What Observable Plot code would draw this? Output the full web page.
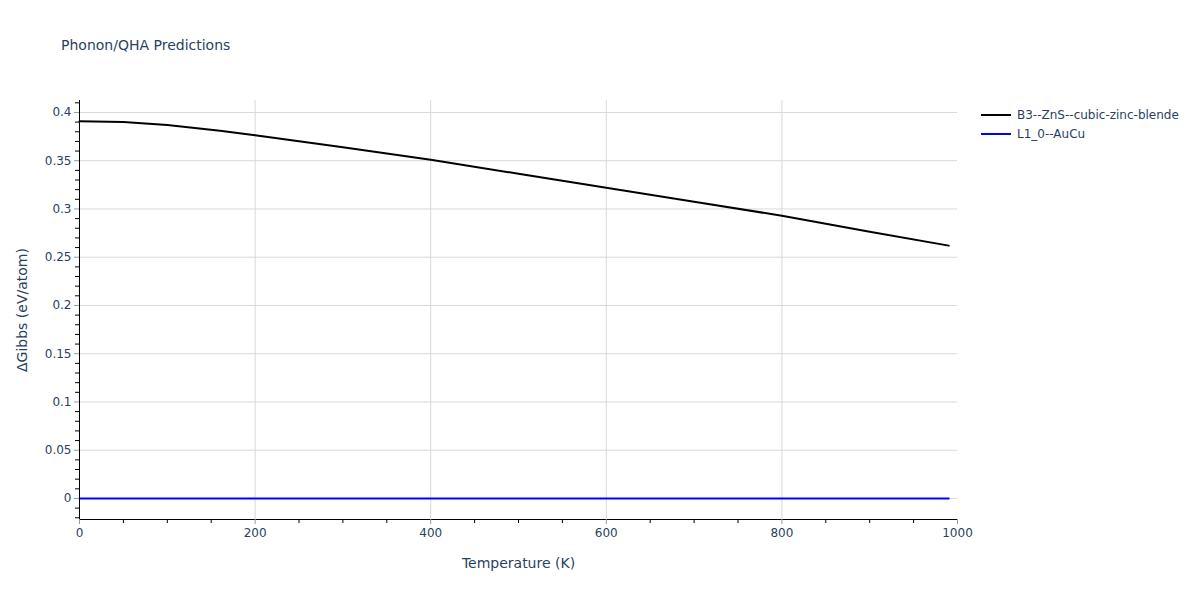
<!DOCTYPE html>
<html>
<head>
<meta charset="utf-8">
<script src="https://cdn.jsdelivr.net/npm/d3@7"></script>
<script src="https://cdn.jsdelivr.net/npm/@observablehq/plot@0.6"></script>
<style>
  html, body { margin: 0; padding: 0; background: #fff; }
  body { width: 1200px; height: 600px; position: relative; overflow: hidden; font-family: "DejaVu Sans", sans-serif; }
  #title { position: absolute; left: 61px; top: 37px; font-size: 14px; color: #2a3f5f; }
  #chart { position: absolute; left: 0; top: 0; }
  #legend { position: absolute; left: 981px; top: 105px; font-size: 12px; color: #2a3f5f; }
  .item { display: flex; align-items: center; height: 19px; }
  .swatch { width: 30px; height: 2px; margin-right: 6px; }
</style>
</head>
<body>
<div id="chart"></div>
<div id="title">Phonon/QHA Predictions</div>
<div id="legend"></div>
<script>
const seriesNames = ["B3--ZnS--cubic-zinc-blende", "L1_0--AuCu"];
const seriesColors = ["#000000", "#0000ff"];
const temps = [0, 50, 100, 160, 200, 300, 400, 500, 600, 700, 800, 900, 990];
const gibbsZnS = [0.391, 0.390, 0.387, 0.381, 0.3765, 0.364, 0.351, 0.3365, 0.322, 0.3075, 0.293, 0.2765, 0.262];
const gibbsAuCu = [0, 0, 0, 0, 0, 0, 0, 0, 0, 0, 0, 0, 0];
const xMajorTicks = [0, 200, 400, 600, 800, 1000];
const xMinorTicks = [50, 100, 150, 250, 300, 350, 450, 500, 550, 650, 700, 750, 850, 900, 950];
const yMajorTicks = [0, 0.05, 0.1, 0.15, 0.2, 0.25, 0.3, 0.35, 0.4];
const yMinorTicks = [-0.02, -0.01, 0.01, 0.02, 0.03, 0.04, 0.06, 0.07, 0.08, 0.09, 0.11, 0.12, 0.13, 0.14, 0.16, 0.17, 0.18, 0.19, 0.21, 0.22, 0.23, 0.24, 0.26, 0.27, 0.28, 0.29, 0.31, 0.32, 0.33, 0.34, 0.36, 0.37, 0.38, 0.39, 0.41];

const data = [];
temps.forEach((t, i) => data.push({T: t, G: gibbsZnS[i], s: seriesNames[0]}));
temps.forEach((t, i) => data.push({T: t, G: gibbsAuCu[i], s: seriesNames[1]}));

const yMin = -0.0218, yMax = 0.4124;
const fmt = d => String(+d.toFixed(2));
const textColor = "#2a3f5f";

const chart = Plot.plot({
  width: 1200,
  height: 600,
  marginLeft: 79,
  marginRight: 243,
  marginTop: 100,
  marginBottom: 81,
  style: {fontFamily: "'DejaVu Sans', sans-serif", fontSize: "12px", color: textColor, background: "transparent"},
  x: {domain: [0, 1000]},
  y: {domain: [yMin, yMax]},
  color: {domain: seriesNames, range: seriesColors},
  marks: [
    Plot.gridX(xMajorTicks.filter(d => d > 0 && d < 1000), {stroke: "#d9d9d9", strokeOpacity: 1, strokeWidth: 1}),
    Plot.gridY(yMajorTicks, {stroke: "#d9d9d9", strokeOpacity: 1, strokeWidth: 1}),
    Plot.line(data, {x: "T", y: "G", z: "s", stroke: "s", strokeWidth: 2}),
    Plot.ruleX([0], {stroke: "#000", strokeWidth: 1}),
    Plot.ruleY([yMin], {stroke: "#000", strokeWidth: 1}),
    Plot.axisY(yMinorTicks, {tickSize: 4, stroke: "#000", tickFormat: () => "", label: null}),
    Plot.axisY(yMajorTicks, {tickSize: 5, stroke: "#999", tickFormat: fmt, fill: textColor, tickPadding: 3, label: "ΔGibbs (eV/atom)", labelAnchor: "center", labelArrow: "none", labelOffset: 62}),
    Plot.axisX(xMinorTicks, {tickSize: 4, stroke: "#000", tickFormat: () => "", label: null}),
    Plot.axisX(xMajorTicks, {tickSize: 5, stroke: "#999", tickFormat: d => String(d), fill: textColor, tickPadding: 4, label: "Temperature (K)", labelAnchor: "center", labelArrow: "none", labelOffset: 48})
  ]
});
chart.querySelectorAll("[aria-label='y-axis label'] text, [aria-label='x-axis label'] text").forEach(t => t.setAttribute("font-size", "14px"));
chart.querySelectorAll("[aria-label='y-axis label'], [aria-label='x-axis label']").forEach(g => g.setAttribute("font-size", "14px"));
document.getElementById("chart").appendChild(chart);

const legend = document.getElementById("legend");
seriesNames.forEach((n, i) => {
  const item = document.createElement("div");
  item.className = "item";
  const sw = document.createElement("div");
  sw.className = "swatch";
  sw.style.background = seriesColors[i];
  const lab = document.createElement("span");
  lab.textContent = n;
  item.appendChild(sw); item.appendChild(lab);
  legend.appendChild(item);
});
</script>
</body>
</html>
